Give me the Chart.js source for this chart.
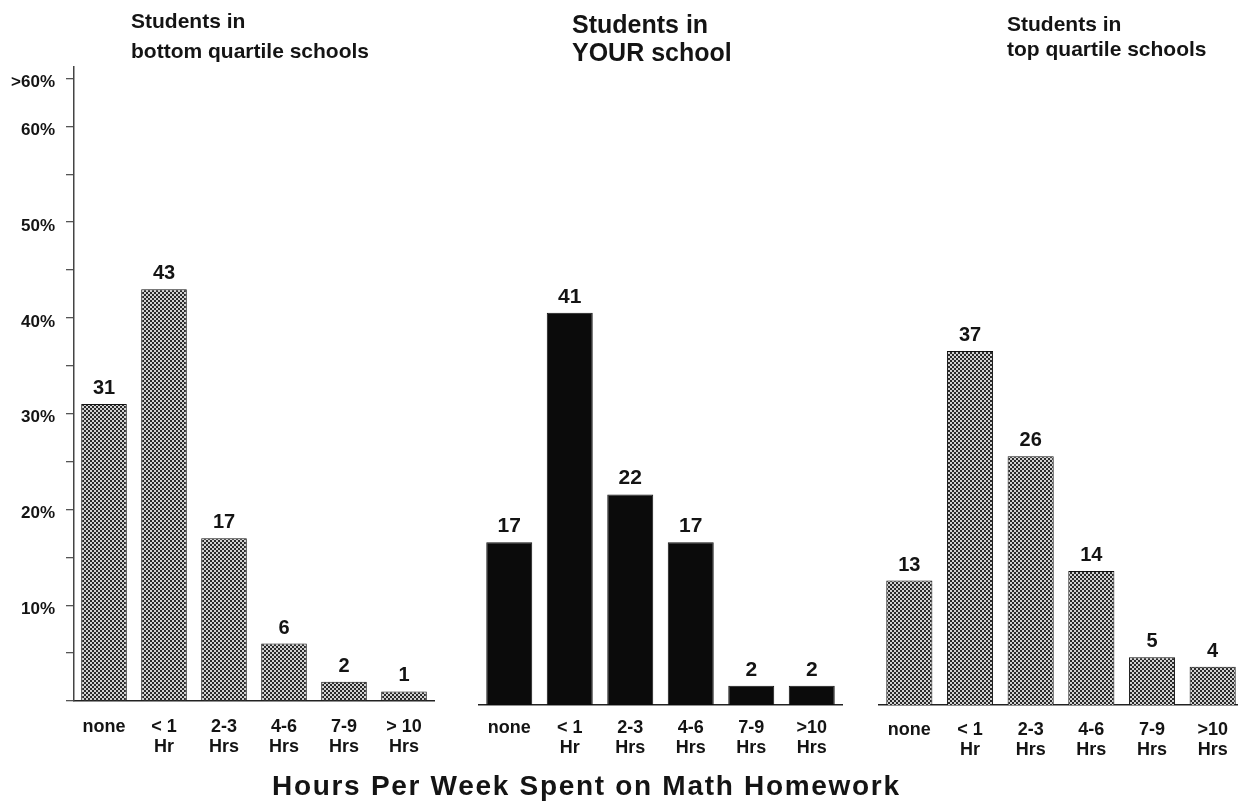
<!DOCTYPE html>
<html>
<head>
<meta charset="utf-8">
<script src="https://cdn.jsdelivr.net/npm/chart.js@4.4.1/dist/chart.umd.min.js"></script>
<style>
  body { margin: 0; background: #fff; }
  #wrap { position: relative; width: 1238px; height: 805px; overflow: hidden; background: #fff;
          font-family: 'Liberation Sans', Arial, Helvetica, sans-serif; color: #141414; }
  canvas { position: absolute; top: 0; }
  .ttl { position: absolute; font-weight: bold; white-space: nowrap; }
</style>
</head>
<body>
<div id="wrap">
  <canvas id="cBottom" width="450" height="805" style="left:0px"></canvas>
  <canvas id="cYour" width="400" height="805" style="left:455px"></canvas>
  <canvas id="cTop" width="390" height="805" style="left:860px"></canvas>

  <div class="ttl" style="left:131px; top:6px; font-size:21px; line-height:30px;">Students in<br>bottom quartile schools</div>
  <div class="ttl" style="left:572px; top:10px; font-size:25px; line-height:28px;">Students in<br>YOUR school</div>
  <div class="ttl" style="left:1007px; top:11px; font-size:21px; line-height:25px;">Students in<br>top quartile schools</div>
  <div class="ttl" style="left:272px; top:770px; font-size:28px; line-height:32px; letter-spacing:1.7px;">Hours Per Week Spent on Math Homework</div>
</div>

<script>
// categories (the bottom-quartile panel writes "> 10" with a space)
const categoriesBottom = ['none', ['< 1', 'Hr'], ['2-3', 'Hrs'], ['4-6', 'Hrs'], ['7-9', 'Hrs'], ['> 10', 'Hrs']];
const categoriesOther = ['none', ['< 1', 'Hr'], ['2-3', 'Hrs'], ['4-6', 'Hrs'], ['7-9', 'Hrs'], ['>10', 'Hrs']];

// percent of students per homework bracket
const bottomQuartile = [31, 43, 17, 6, 2, 1];
const yourSchool = [17, 41, 22, 17, 2, 2];
const topQuartile = [13, 37, 26, 14, 5, 4];

// y axis
const yTickValues = [0, 5, 10, 15, 20, 25, 30, 35, 40, 45, 50, 55, 60, 65];
const yTickLabels = { 10: '10%', 20: '20%', 30: '30%', 40: '40%', 50: '50%', 60: '60%', 65: '>60%' };
const Y_MAX = 66.2;

const FONT = "'Liberation Sans', Arial, Helvetica, sans-serif";

// small checker mesh, like the printed crosshatch
function hatchPattern() {
  const c = document.createElement('canvas');
  c.width = 4;
  c.height = 4;
  const g = c.getContext('2d');
  g.fillStyle = '#d2d2d2';
  g.fillRect(0, 0, 4, 4);
  g.fillStyle = '#2a2a2a';
  g.fillRect(2, 0, 2, 2);
  g.fillRect(0, 2, 2, 2);
  return g.createPattern(c, 'repeat');
}

// numbers above the bars
const valueLabels = {
  id: 'valueLabels',
  afterDatasetsDraw(chart, args, opts) {
    const ctx = chart.ctx;
    const meta = chart.getDatasetMeta(0);
    const values = chart.data.datasets[0].data;
    ctx.save();
    ctx.font = 'bold ' + opts.size + 'px ' + FONT;
    ctx.fillStyle = '#141414';
    ctx.textAlign = 'center';
    ctx.textBaseline = 'alphabetic';
    meta.data.forEach((bar, i) => {
      ctx.fillText(String(values[i]), bar.x, bar.y - 10);
    });
    ctx.restore();
  }
};

function makeChart(id, labels, values, fill, cfg) {
  const ctx = document.getElementById(id).getContext('2d');
  return new Chart(ctx, {
    type: 'bar',
    data: {
      labels: labels,
      datasets: [{
        data: values,
        backgroundColor: fill,
        borderColor: '#111',
        borderWidth: 1,
        barPercentage: 0.76,
        categoryPercentage: 1,
      }],
    },
    options: {
      responsive: false,
      animation: false,
      devicePixelRatio: 1,
      layout: { padding: cfg.padding },
      plugins: {
        legend: { display: false },
        tooltip: { enabled: false },
        valueLabels: { size: cfg.valueSize },
      },
      scales: {
        x: {
          grid: { display: false, drawTicks: false },
          border: { display: true, color: '#222', width: 1.5 },
          ticks: {
            padding: cfg.tickPad,
            color: '#141414',
            maxRotation: 0,
            autoSkip: false,
            font: { family: FONT, size: 18, weight: 'bold', lineHeight: 1.1 },
          },
          afterFit: (s) => { s.height = cfg.xHeight; },
        },
        y: {
          display: cfg.showY,
          min: 0,
          max: Y_MAX,
          afterBuildTicks: (s) => { s.ticks = yTickValues.map((v) => ({ value: v })); },
          ticks: {
            callback: (v) => yTickLabels[v] || '',
            color: '#141414',
            padding: 11,
            labelOffset: 4,
            font: { family: FONT, size: 17, weight: 'bold' },
          },
          grid: { drawOnChartArea: false, drawTicks: true, tickLength: 8, color: '#555', lineWidth: 1.3 },
          border: { display: true, color: '#444', width: 1.5 },
          afterFit: (s) => { s.width = cfg.showY ? 74 : 0; },
        },
      },
    },
    plugins: [valueLabels],
  });
}

const hatch = hatchPattern();

makeChart('cBottom', categoriesBottom, bottomQuartile, hatch, {
  showY: true, padding: { top: 67, right: 16, left: 0, bottom: 0 },
  xHeight: 104, tickPad: 16, valueSize: 20,
});
makeChart('cYour', categoriesOther, yourSchool, '#0b0b0b', {
  showY: false, padding: { top: 71.5, right: 13, left: 24, bottom: 0 },
  xHeight: 100, tickPad: 13, valueSize: 21,
});
makeChart('cTop', categoriesOther, topQuartile, hatch, {
  showY: false, padding: { top: 71.5, right: 7, left: 19, bottom: 0 },
  xHeight: 100, tickPad: 15, valueSize: 20,
});
</script>
</body>
</html>
